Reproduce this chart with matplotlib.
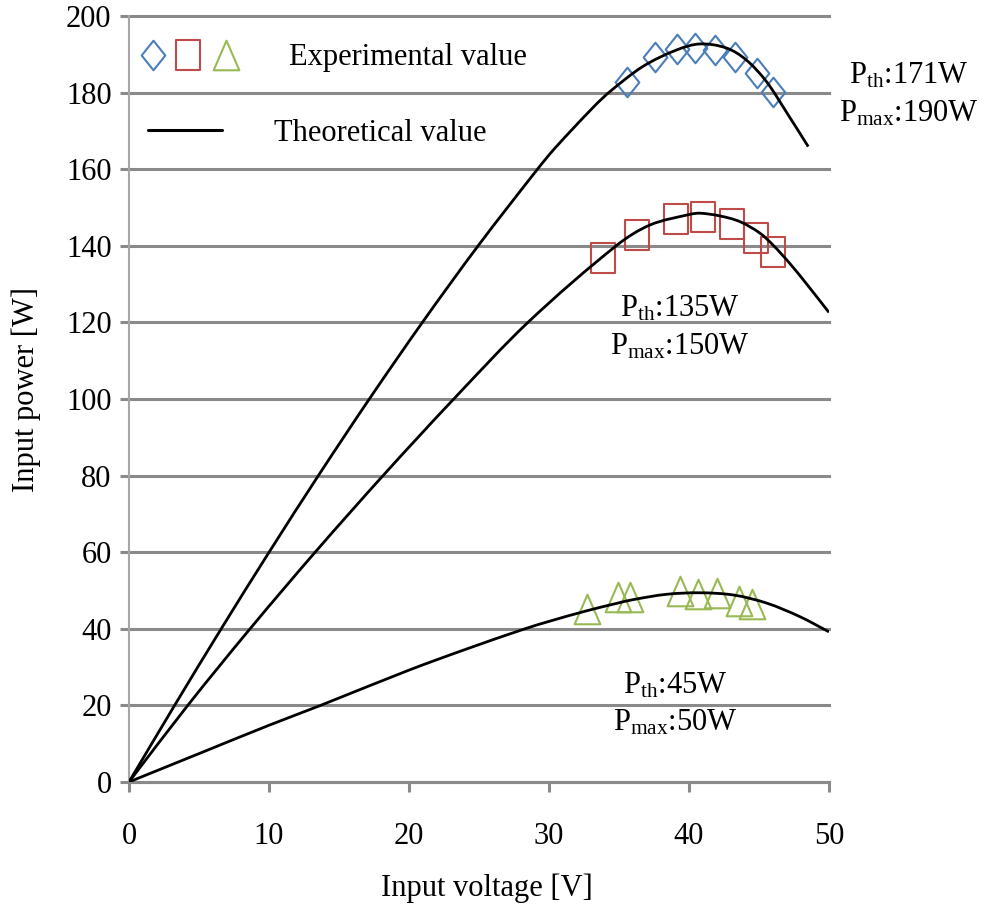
import matplotlib
matplotlib.use('Agg')
import matplotlib.pyplot as plt
from matplotlib.path import Path
from matplotlib.patches import PathPatch

plt.rcParams['font.family'] = ['Liberation Serif', 'DejaVu Serif']
plt.rcParams['mathtext.fontset'] = 'custom'
plt.rcParams['mathtext.rm'] = 'Liberation Serif'
plt.rcParams['mathtext.it'] = 'Liberation Serif:italic'
plt.rcParams['mathtext.bf'] = 'Liberation Serif:bold'

# Measured operating points (input voltage [V], input power [W])
v_190 = [35.55, 37.57, 39.12, 40.43, 41.86, 43.29, 44.83, 46.02]
p_190 = [182.8, 189.2, 191.3, 191.7, 191.1, 189.2, 185.0, 180.1]
v_150 = [33.88, 36.26, 39.07, 40.98, 43.10, 44.76, 45.98]
p_150 = [136.7, 142.8, 146.9, 147.6, 145.6, 142.1, 138.5]
v_50 = [32.69, 34.93, 35.79, 39.33, 40.62, 41.98, 43.60, 44.52]
p_50 = [45.2, 48.2, 48.2, 49.8, 49.2, 49.4, 47.3, 46.4]

# Theoretical P-V curves
tv_190 = [0, 3.26, 6.59, 10.01, 13.53, 17.17, 20.96, 24.94, 29.18, 30.43,
          33.2, 34.4, 36.7, 39.1, 40.8, 42.7, 44.1, 45.55, 46.98, 48.52]
tp_190 = [0, 20, 40, 60, 80, 100, 120, 140, 160, 165.5,
          176.3, 180.4, 186.8, 191.1, 192.7, 191.6, 188.5, 182.8, 174.8, 165.9]
tv_150 = [0, 4.2, 8.65, 13.3, 18.15, 23.2, 28.5, 34.8, 37.2,
          40.07, 40.8, 42.2, 43.64, 45.07, 46.0, 47.2, 48.41, 50.0]
tp_150 = [0, 20, 40, 60, 80, 100, 120, 140, 145.4,
          148.2, 148.5, 147.8, 146.3, 143.3, 140.2, 135.4, 130.0, 122.6]
tv_50 = [0, 5, 10, 13.69, 20.0, 24.1, 28.29, 30.07, 32.7, 34.8, 36.0, 38.4,
         40.8, 43.2, 45.55, 47.9, 50.0]
tp_50 = [0, 7.4, 14.8, 20, 29.2, 34.7, 40, 42.0, 44.7, 46.6, 47.6, 49.0,
         49.4, 48.8, 46.7, 43.2, 39.2]

x_ticks = [0, 10, 20, 30, 40, 50]
y_ticks = [0, 20, 40, 60, 80, 100, 120, 140, 160, 180, 200]

labels = [
    (55.71, 182.4, r'$\mathrm{P_{th}}$:171W'),
    (55.71, 172.4, r'$\mathrm{P_{max}}$:190W'),
    (39.36, 121.5, r'$\mathrm{P_{th}}$:135W'),
    (39.36, 111.7, r'$\mathrm{P_{max}}$:150W'),
    (39.0, 23.2, r'$\mathrm{P_{th}}$:45W'),
    (39.0, 13.4, r'$\mathrm{P_{max}}$:50W'),
]

BLUE, RED, GREEN = '#4A7EBB', '#BE4B48', '#98B954'
GRID = '#8A8A8A'


def smooth_line(ax, xs, ys, **kw):
    """Draw a smoothed line through the given points (cubic Bezier segments)."""
    n = len(xs)
    slopes = []
    for i in range(n):
        if i == 0:
            m = (ys[1] - ys[0]) / (xs[1] - xs[0])
        elif i == n - 1:
            m = (ys[-1] - ys[-2]) / (xs[-1] - xs[-2])
        else:
            m = (ys[i + 1] - ys[i - 1]) / (xs[i + 1] - xs[i - 1])
        slopes.append(m)
    verts = [(xs[0], ys[0])]
    codes = [Path.MOVETO]
    for i in range(n - 1):
        dx = xs[i + 1] - xs[i]
        verts += [(xs[i] + dx / 3, ys[i] + slopes[i] * dx / 3),
                  (xs[i + 1] - dx / 3, ys[i + 1] - slopes[i + 1] * dx / 3),
                  (xs[i + 1], ys[i + 1])]
        codes += [Path.CURVE4] * 3
    patch = PathPatch(Path(verts, codes), facecolor='none', **kw)
    ax.add_patch(patch)
    return patch


# slightly tall outline markers
diamond = Path([(0, 1), (0.8, 0), (0, -1), (-0.8, 0), (0, 1)], closed=True)
square = Path([(-0.83, -1), (0.83, -1), (0.83, 1), (-0.83, 1), (-0.83, -1)], closed=True)
triangle = Path([(0, 1), (-0.87, -1), (0.87, -1), (0, 1)], closed=True)
mk = dict(linestyle='none', markersize=21.3, markerfacecolor='none',
          markeredgewidth=1.5, zorder=3)

fig = plt.figure(figsize=(9.83, 9.08), dpi=100)
ax = fig.add_axes([0.1312, 0.1388, 0.7121, 0.8436])

ax.plot(v_190, p_190, marker=diamond, markeredgecolor=BLUE, **mk)
ax.plot(v_150, p_150, marker=square, markeredgecolor=RED, **mk)
ax.plot(v_50, p_50, marker=triangle, markeredgecolor=GREEN, **mk)

for tv, tp in [(tv_190, tp_190), (tv_150, tp_150), (tv_50, tp_50)]:
    smooth_line(ax, tv, tp, edgecolor='black', linewidth=2.0, zorder=4,
                capstyle='butt')

ax.set_xlim(0, 50)
ax.set_ylim(0, 200)
ax.set_xticks(x_ticks)
ax.set_yticks(y_ticks)
ax.tick_params(axis='both', labelsize=22, colors=GRID, labelcolor='black')
ax.tick_params(axis='x', direction='out', length=7, width=2.2, pad=22)
ax.tick_params(axis='y', direction='out', length=6.5, width=2.2, pad=6)

ax.yaxis.grid(True, color=GRID, linewidth=2.2)
ax.set_axisbelow(True)
for gl in ax.get_ygridlines():
    gl.set_clip_on(False)

for side in ('top', 'right'):
    ax.spines[side].set_visible(False)
ax.spines['left'].set_color('#A6A6A6')
ax.spines['left'].set_linewidth(1.5)
ax.spines['bottom'].set_color(GRID)
ax.spines['bottom'].set_linewidth(2.2)

ax.set_xlabel('Input voltage [V]', fontsize=22)
ax.set_ylabel('Input power [W]', fontsize=22)
ax.xaxis.set_label_coords(0.511, -0.119)
ax.yaxis.set_label_coords(-0.126, 0.513)

for x, y, s in labels:
    ax.text(x, y, s, fontsize=22, ha='center', va='baseline', clip_on=False)

# legend keys
tr = ax.transAxes
leg_y = 0.949
ax.plot([0.0343], [leg_y], marker=diamond, markeredgecolor=BLUE, transform=tr,
        clip_on=False, **mk)
ax.plot([0.0840], [leg_y], marker=square, markeredgecolor=RED, transform=tr,
        clip_on=False, **mk)
ax.plot([0.1386], [leg_y], marker=triangle, markeredgecolor=GREEN, transform=tr,
        clip_on=False, **mk)
ax.text(0.2289, 0.936, 'Experimental value', fontsize=22, transform=tr,
        ha='left', va='baseline')
ax.plot([0.0276, 0.1333], [0.851, 0.851], color='black', linewidth=2.2,
        transform=tr, clip_on=False, solid_capstyle='round')
ax.text(0.2071, 0.837, 'Theoretical value', fontsize=22, transform=tr,
        ha='left', va='baseline')

fig.savefig('out.png', dpi=100)
